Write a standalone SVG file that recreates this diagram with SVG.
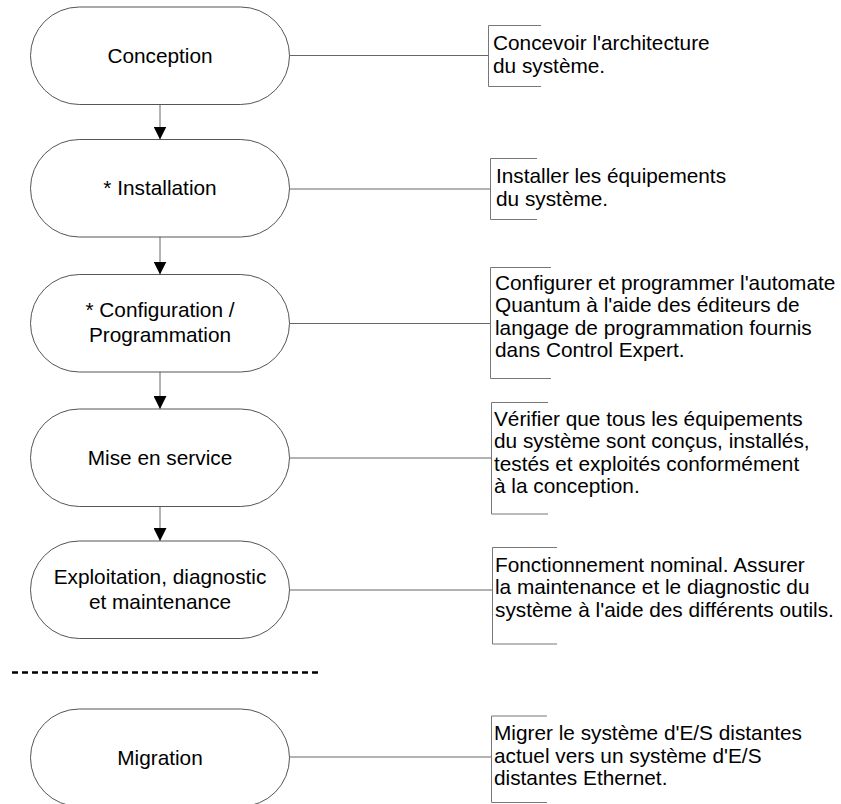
<svg xmlns="http://www.w3.org/2000/svg" width="841" height="804" viewBox="0 0 841 804">
<defs>
<style>
.node{fill:#fff;stroke:#555;stroke-width:1}
.lbl{font-family:"Liberation Sans",Arial,sans-serif;font-size:20.8px;fill:#000;text-anchor:middle}
.desc{font-family:"Liberation Sans",Arial,sans-serif;font-size:20.8px;fill:#000}
.conn{stroke:#666;stroke-width:1;fill:none}
.brk{stroke:#777;stroke-width:1;fill:none}
.arr{stroke:#666;stroke-width:1;fill:none;marker-end:url(#ah)}
</style>
<marker id="ah" markerUnits="userSpaceOnUse" markerWidth="13" markerHeight="13" refX="13" refY="6.5" orient="auto">
<path d="M0,0 L13,6.5 L0,13 z" fill="#000"/>
</marker>
</defs>
<rect width="841" height="804" fill="#fff"/>

<g id="connectors">
<line class="arr" x1="160" y1="104.5" x2="160" y2="139.5"/>
<line class="arr" x1="160" y1="237" x2="160" y2="274.5"/>
<line class="arr" x1="160" y1="372" x2="160" y2="409"/>
<line class="arr" x1="160" y1="506.5" x2="160" y2="541"/>
<line class="conn" x1="289.5" y1="55.5" x2="488" y2="55.5"/>
<line class="conn" x1="289.5" y1="189" x2="490" y2="189"/>
<line class="conn" x1="289.5" y1="323.5" x2="490" y2="323.5"/>
<line class="conn" x1="289.5" y1="458" x2="491.5" y2="458"/>
<line class="conn" x1="289.5" y1="590" x2="492" y2="590"/>
<line class="conn" x1="289.5" y1="757" x2="491.5" y2="757"/>
<line x1="12" y1="672.5" x2="319" y2="672.5" stroke="#000" stroke-width="2.5" stroke-dasharray="6,4"/>
</g>

<g id="n-conception">
<rect class="node" x="30.5" y="7" width="259" height="97.5" rx="48.75"/>
<text class="lbl" x="160" y="62.5">Conception</text>
</g>
<g id="d-conception">
<path class="brk" d="M541,25.5 H488.5 V86.5 H541"/>
<text class="desc" x="493" y="49.5">Concevoir l'architecture</text>
<text class="desc" x="493" y="73">du système.</text>
</g>

<g id="n-installation">
<rect class="node" x="30.5" y="139.5" width="259" height="97.5" rx="48.75"/>
<text class="lbl" x="160" y="195">* Installation</text>
</g>
<g id="d-installation">
<path class="brk" d="M537,158.5 H490.5 V219.5 H537"/>
<text class="desc" x="496" y="182.5">Installer les équipements</text>
<text class="desc" x="496" y="206">du système.</text>
</g>

<g id="n-configuration">
<rect class="node" x="30.5" y="274.5" width="259" height="97.5" rx="48.75"/>
<text class="lbl" x="160" y="317">* Configuration /</text>
<text class="lbl" x="160" y="342">Programmation</text>
</g>
<g id="d-configuration">
<path class="brk" d="M551,267.5 H490.5 V378.5 H551"/>
<text class="desc" x="495" y="289.5">Configurer et programmer l'automate</text>
<text class="desc" x="495" y="312">Quantum à l'aide des éditeurs de</text>
<text class="desc" x="495" y="334.5">langage de programmation fournis</text>
<text class="desc" x="495" y="357">dans Control Expert.</text>
</g>

<g id="n-mise">
<rect class="node" x="30.5" y="409" width="259" height="97.5" rx="48.75"/>
<text class="lbl" x="160" y="464.5">Mise en service</text>
</g>
<g id="d-mise">
<path class="brk" d="M548,402.5 H491.5 V514 H548"/>
<text class="desc" x="494" y="425.5">Vérifier que tous les équipements</text>
<text class="desc" x="494" y="448">du système sont conçus, installés,</text>
<text class="desc" x="494" y="470.5">testés et exploités conformément</text>
<text class="desc" x="494" y="493">à la conception.</text>
</g>

<g id="n-exploitation">
<rect class="node" x="30.5" y="541" width="259" height="97.5" rx="48.75"/>
<text class="lbl" x="160" y="583.5">Exploitation, diagnostic</text>
<text class="lbl" x="160" y="608.5">et maintenance</text>
</g>
<g id="d-exploitation">
<path class="brk" d="M557,547.5 H492.5 V644 H557"/>
<text class="desc" x="495" y="571.5">Fonctionnement nominal. Assurer</text>
<text class="desc" x="495" y="594">la maintenance et le diagnostic du</text>
<text class="desc" x="495" y="616.5">système à l'aide des différents outils.</text>
</g>

<g id="n-migration">
<rect class="node" x="30.5" y="709" width="259" height="97.5" rx="48.75"/>
<text class="lbl" x="160" y="765">Migration</text>
</g>
<g id="d-migration">
<path class="brk" d="M547,716 H491.5 V802.5 H547"/>
<text class="desc" x="494" y="740">Migrer le système d'E/S distantes</text>
<text class="desc" x="494" y="762.5">actuel vers un système d'E/S</text>
<text class="desc" x="494" y="784.5">distantes Ethernet.</text>
</g>
</svg>
